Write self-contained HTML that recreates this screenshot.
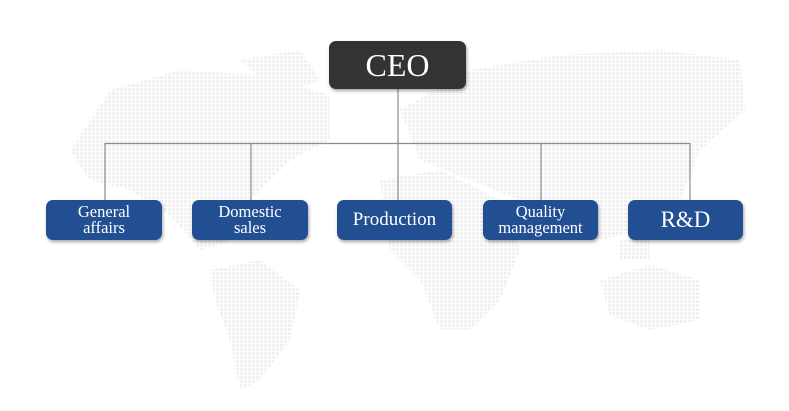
<!DOCTYPE html>
<html><head><meta charset="utf-8"><style>
html,body{margin:0;padding:0;background:#fff;}
body{width:789px;height:411px;position:relative;overflow:hidden;font-family:"Liberation Serif",serif;}
.box{position:absolute;color:#fff;display:flex;align-items:center;justify-content:center;text-align:center;border-radius:7px;box-shadow:1px 2px 3px rgba(0,0,0,0.35);}
.d{background:#224f91;height:40px;top:200px;width:116px;font-size:16.5px;line-height:16px;}
</style></head><body>
<svg width="789" height="411" style="position:absolute;left:0;top:0">
<defs><pattern id="p" width="4" height="4" patternUnits="userSpaceOnUse"><rect width="3" height="3" fill="#f1f1f1"/></pattern></defs>
<g fill="url(#p)">
<path d="M70,150 L110,90 L180,70 L260,75 L330,95 L330,140 L290,160 L250,200 L230,240 L200,250 L170,215 L130,190 L90,180 Z"/>
<path d="M210,270 L260,260 L300,290 L290,340 L260,380 L240,390 L230,340 L215,300 Z"/>
<path d="M240,60 L300,50 L320,80 L280,95 Z"/>
<path d="M400,110 L470,70 L560,55 L660,50 L740,60 L745,110 L700,150 L680,200 L640,230 L600,240 L560,220 L520,200 L470,180 L420,160 Z"/>
<path d="M380,180 L440,170 L500,200 L520,250 L500,300 L470,330 L440,330 L420,280 L390,250 Z"/>
<path d="M600,280 L650,265 L700,280 L700,320 L650,330 L610,315 Z"/>
<path d="M620,240 L650,240 L650,260 L620,260 Z"/>
</g>
<g stroke="#8c8c8c" stroke-width="1.2" fill="none">
<line x1="398" y1="89" x2="398" y2="200"/>
<line x1="105" y1="143.5" x2="690" y2="143.5"/>
<line x1="105" y1="143" x2="105" y2="200"/>
<line x1="251" y1="143" x2="251" y2="200"/>
<line x1="541" y1="143" x2="541" y2="200"/>
<line x1="690" y1="143" x2="690" y2="200"/>
</g>
</svg>
<div class="box" style="left:329px;top:41px;width:137px;height:48px;background:#333;font-size:32px;">CEO</div>
<div class="box d" style="left:46px;">General<br>affairs</div>
<div class="box d" style="left:192px;">Domestic<br>sales</div>
<div class="box d" style="left:337px;width:115px;font-size:19px;">Production</div>
<div class="box d" style="left:483px;width:115px;">Quality<br>management</div>
<div class="box d" style="left:628px;width:115px;font-size:23px;">R&amp;D</div>
</body></html>
